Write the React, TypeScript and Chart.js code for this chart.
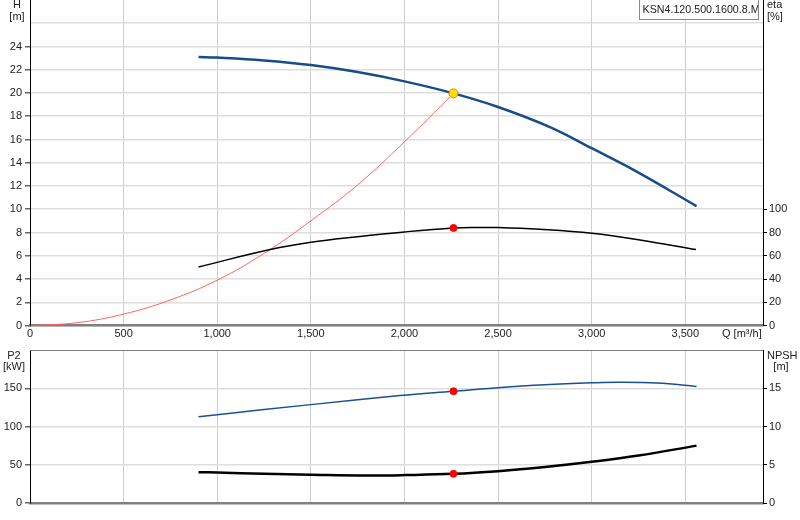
import { useEffect, useRef } from "react";
import { Chart, registerables } from "chart.js";
Chart.register(...registerables);

// ---- data ----
const qMax = 3915;
const qTicks = [0, 500, 1000, 1500, 2000, 2500, 3000, 3500];
const headQ = [900, 1000, 1250, 1500, 1750, 2000, 2262, 2500, 2780, 3000, 3245, 3560];
const headH = [23.1, 23.05, 22.8, 22.4, 21.8, 21.0, 19.97, 18.8, 17.05, 15.25, 13.2, 10.27];
const etaQ = [900, 1283, 1500, 1750, 2000, 2262, 2400, 2500, 2724, 3000, 3258, 3557];
const etaV = [50.4, 65.3, 71.6, 76.4, 80.5, 83.8, 84.3, 84.3, 82.7, 79.3, 73.6, 65.3];
const sysQ = [0, 250, 500, 750, 1000, 1250, 1500, 1750, 2000, 2262];
const sysH = [0, 0.24, 0.98, 2.2, 3.9, 6.2, 9.0, 12.1, 15.8, 19.97];
const p2Q = [900, 1000, 1500, 1975, 2262, 2500, 2750, 3000, 3150, 3350, 3560];
const p2V = [112.9, 115.5, 128.6, 140.4, 146.1, 150.8, 154.6, 157.1, 157.9, 156.8, 152.3];
const npshQ = [900, 1000, 1250, 1500, 1800, 2000, 2262, 2500, 2750, 3000, 3250, 3560];
const npshV = [4.03, 3.98, 3.82, 3.7, 3.6, 3.65, 3.81, 4.16, 4.7, 5.38, 6.2, 7.5];
const dutyQ = 2262;
const dutyH = 19.97;
const dutyEta = 83.9;
const dutyP2 = 146.1;
const dutyNpsh = 3.81;
const legendText = "KSN4.120.500.1600.8.M.";

const FONT = "'Liberation Sans', Arial, sans-serif";
const pts = (xs: number[], ys: number[]) => xs.map((x, i) => ({ x, y: ys[i] }));
const fmt = (v: number) => String(Math.round(v)).replace(/\B(?=(\d{3})+(?!\d))/g, ",");

const hGrid = "#dedede";
const vGrid = "#cfcfcf";

function xScale(showLabels: boolean, height: number) {
  return {
    type: "linear" as const,
    min: 0,
    max: qMax,
    afterBuildTicks: (s: any) => {
      s.ticks = qTicks.map((v) => ({ value: v }));
    },
    afterFit: (s: any) => {
      s.height = height;
      s.paddingLeft = 0;
      s.paddingRight = 0;
    },
    ticks: {
      display: showLabels,
      padding: 2,
      color: "#222",
      font: { family: FONT, size: 11 },
      callback: (v: any) => fmt(Number(v)),
      maxRotation: 0,
      minRotation: 0,
      autoSkip: false,
    },
    grid: { color: vGrid, lineWidth: 1, drawTicks: false },
    border: { color: "#808080", width: 2.5 },
  };
}

function yTicksFrom(max: number, step: number) {
  const out: number[] = [];
  for (let v = 0; v <= max + 1e-9; v += step) out.push(v);
  return out;
}

function leftY(max: number, step: number, labelMax: number) {
  const vals = yTicksFrom(max, step);
  return {
    type: "linear" as const,
    position: "left" as const,
    min: 0,
    max,
    afterBuildTicks: (s: any) => {
      s.ticks = vals.map((v) => ({ value: v }));
    },
    afterFit: (s: any) => {
      s.width = 30;
      s.paddingTop = 0;
      s.paddingBottom = 0;
    },
    ticks: {
      padding: 3,
      color: "#222",
      font: { family: FONT, size: 11 },
      autoSkip: false,
      callback: (v: any) => (Number(v) <= labelMax ? String(v) : ""),
    },
    grid: {
      color: (c: any) => (c.tick && c.tick.value >= max ? "rgba(0,0,0,0)" : hGrid),
      lineWidth: 1.5,
      tickLength: 5,
      tickColor: (c: any) => (c.tick && c.tick.value > labelMax ? "rgba(0,0,0,0)" : "#666"),
    },
    border: { color: "#000", width: 1 },
  };
}

function rightY(max: number, step: number, labelMax: number) {
  const vals = yTicksFrom(labelMax, step);
  return {
    type: "linear" as const,
    position: "right" as const,
    min: 0,
    max,
    afterBuildTicks: (s: any) => {
      s.ticks = vals.map((v) => ({ value: v }));
    },
    afterFit: (s: any) => {
      s.width = 37;
      s.paddingTop = 0;
      s.paddingBottom = 0;
    },
    ticks: {
      padding: 2,
      color: "#222",
      font: { family: FONT, size: 11 },
      autoSkip: false,
      callback: (v: any) => String(v),
    },
    grid: { drawOnChartArea: false, drawTicks: true, tickLength: 4, tickColor: "#000" },
    border: { color: "#000", width: 1 },
  };
}

function text(ctx: CanvasRenderingContext2D, s: string, x: number, y: number, align: CanvasTextAlign) {
  ctx.textAlign = align;
  ctx.fillText(s, x, y);
}

const topLabels = {
  id: "topLabels",
  afterDraw(chart: any) {
    const ctx: CanvasRenderingContext2D = chart.ctx;
    ctx.save();
    ctx.font = `11px ${FONT}`;
    ctx.fillStyle = "#222";
    ctx.textBaseline = "middle";
    text(ctx, "H", 17, 5, "center");
    text(ctx, "[m]", 17, 17, "center");
    text(ctx, "eta", 767, 5, "left");
    text(ctx, "[%]", 767, 17, "left");
    text(ctx, "Q [m³/h]", 722, 334, "left");
    // legend box
    ctx.fillStyle = "#fff";
    ctx.fillRect(639.5, -0.5, 119, 20);
    ctx.strokeStyle = "#888";
    ctx.lineWidth = 1;
    ctx.strokeRect(639.5, -0.5, 119, 20);
    ctx.beginPath();
    ctx.rect(640, 0, 118, 19);
    ctx.clip();
    ctx.fillStyle = "#222";
    ctx.textAlign = "left";
    ctx.font = `10.7px ${FONT}`;
    ctx.fillText(legendText, 642.5, 10);
    ctx.restore();
  },
};

const bottomLabels = {
  id: "bottomLabels",
  afterDraw(chart: any) {
    const ctx: CanvasRenderingContext2D = chart.ctx;
    const a = chart.chartArea;
    ctx.save();
    ctx.strokeStyle = "#808080";
    ctx.lineWidth = 1;
    ctx.beginPath();
    ctx.moveTo(a.left, Math.round(a.top) + 0.5);
    ctx.lineTo(a.right, Math.round(a.top) + 0.5);
    ctx.stroke();
    ctx.font = `11px ${FONT}`;
    ctx.fillStyle = "#222";
    ctx.textBaseline = "middle";
    text(ctx, "P2", 14, 16, "center");
    text(ctx, "[kW]", 14, 27, "center");
    text(ctx, "NPSH", 767, 16, "left");
    text(ctx, "[m]", 781, 27, "center");
    ctx.restore();
  },
};

const lineDs = (data: any[], color: string, width: number, yAxisID: string, order: number) => ({
  data,
  borderColor: color,
  borderWidth: width,
  pointRadius: 0,
  fill: false,
  tension: 0.4,
  yAxisID,
  order,
});

const markerDs = (x: number, y: number, bg: string, border: string, r: number, yAxisID: string) => ({
  data: [{ x, y }],
  showLine: false,
  pointRadius: r,
  pointBackgroundColor: bg,
  pointBorderColor: border,
  pointBorderWidth: 1,
  yAxisID,
  order: 0,
});

export default function App() {
  const topRef = useRef<HTMLCanvasElement>(null);
  const botRef = useRef<HTMLCanvasElement>(null);

  useEffect(() => {
    const common = {
      animation: false as const,
      responsive: true,
      maintainAspectRatio: false,
      devicePixelRatio: 1,
      plugins: { legend: { display: false }, tooltip: { enabled: false } },
      events: [] as any[],
    };

    const top = new Chart(topRef.current!, {
      type: "line",
      data: {
        datasets: [
          markerDs(dutyQ, dutyH, "#ffe000", "#f08000", 4.5, "y"),
          markerDs(dutyQ, dutyEta, "#ff0000", "#ff0000", 3.5, "y2"),
          lineDs(pts(headQ, headH), "#174d88", 2.5, "y", 1),
          lineDs(pts(etaQ, etaV), "#000000", 1.5, "y2", 2),
          lineDs(pts(sysQ, sysH), "#ff6666", 1, "y", 3),
        ] as any,
      },
      options: {
        ...common,
        layout: { padding: 0, autoPadding: false },
        scales: {
          x: xScale(true, 19.5),
          y: leftY(28, 2, 24),
          y2: rightY(280, 20, 100),
        } as any,
      },
      plugins: [topLabels],
    });

    const bot = new Chart(botRef.current!, {
      type: "line",
      data: {
        datasets: [
          markerDs(dutyQ, dutyP2, "#ff0000", "#ff0000", 3.5, "y"),
          markerDs(dutyQ, dutyNpsh, "#ff0000", "#ff0000", 3.5, "y2"),
          lineDs(pts(p2Q, p2V), "#1a5090", 1.5, "y", 1),
          lineDs(pts(npshQ, npshV), "#000000", 2.5, "y2", 2),
        ] as any,
      },
      options: {
        ...common,
        layout: { padding: { top: 10, left: 0, right: 0, bottom: 0 }, autoPadding: false },
        scales: {
          x: xScale(false, 17),
          y: leftY(200, 50, 150),
          y2: rightY(20, 5, 15),
        } as any,
      },
      plugins: [bottomLabels],
    });

    return () => {
      top.destroy();
      bot.destroy();
    };
  }, []);

  return (
    <div style={{ position: "absolute", left: 0, top: 0, width: 800, height: 520, background: "#fff" }}>
      <div style={{ position: "absolute", left: 0, top: 0, width: 800, height: 345 }}>
        <canvas ref={topRef} />
      </div>
      <div style={{ position: "absolute", left: 0, top: 340, width: 800, height: 180 }}>
        <canvas ref={botRef} />
      </div>
    </div>
  );
}
